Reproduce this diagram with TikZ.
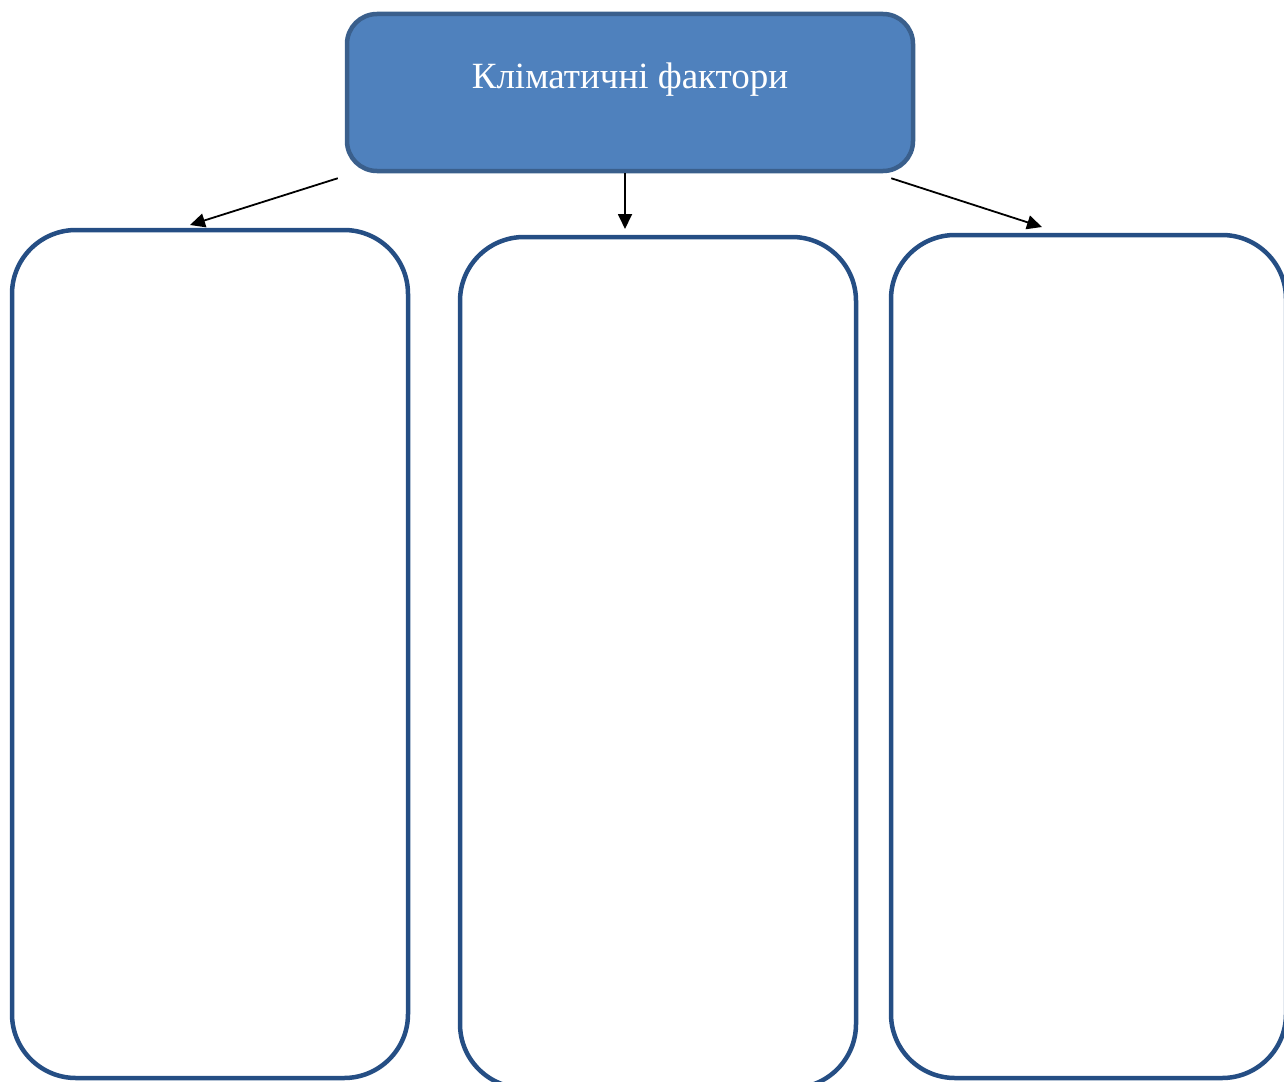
\documentclass[tikz,border=0pt]{standalone}
\usepackage{fontspec}
\setmainfont{Liberation Serif}
\usetikzlibrary{arrows.meta,calc}
\definecolor{topfill}{HTML}{4F81BD}
\definecolor{topline}{HTML}{3A5F8C}
\definecolor{boxline}{HTML}{254E84}
\tikzset{
  topbox/.style={draw=topline, fill=topfill, line width=4.5pt, rounded corners=30pt,
    rectangle, minimum width=566pt, minimum height=157pt, inner sep=0pt},
  emptybox/.style={draw=boxline, line width=4.5pt, rounded corners=64pt, rectangle,
    inner sep=0pt},
  conn/.style={draw=black, line width=1.8pt, -{Triangle[length=15pt,width=14pt]}},
  title/.style={text=white, font=\fontsize{37}{44}\selectfont, inner sep=0pt}
}
\begin{document}
\begin{tikzpicture}[x=1pt,y=-1pt]
\useasboundingbox (0,0) rectangle (1284,1081);
\clip (0,0) rectangle (1284,1081);
\node[topbox] (top) at (630,92.5) {};
\node[title] (toptext) at (630,80) {Кліматичні фактори};
\node[emptybox, minimum width=396pt, minimum height=848pt] (left) at (210,654) {};
\node[emptybox, minimum width=396pt, minimum height=851pt] (mid) at (658,662.5) {};
\node[emptybox, minimum width=395pt, minimum height=843pt] (right) at (1088.5,656.5) {};
\coordinate (lstart) at ($(top.south west)+(-7,5)$);
\coordinate (rstart) at ($(top.south east)+(-24,5)$);
\coordinate (lend) at (190,225);
\coordinate (mend) at (625,229);
\coordinate (rend) at (1042,227);
\draw[conn] (lstart) -- (lend);
\draw[conn] (top.south -| mend) -- (mend);
\draw[conn] (rstart) -- (rend);
\end{tikzpicture}
\end{document}
